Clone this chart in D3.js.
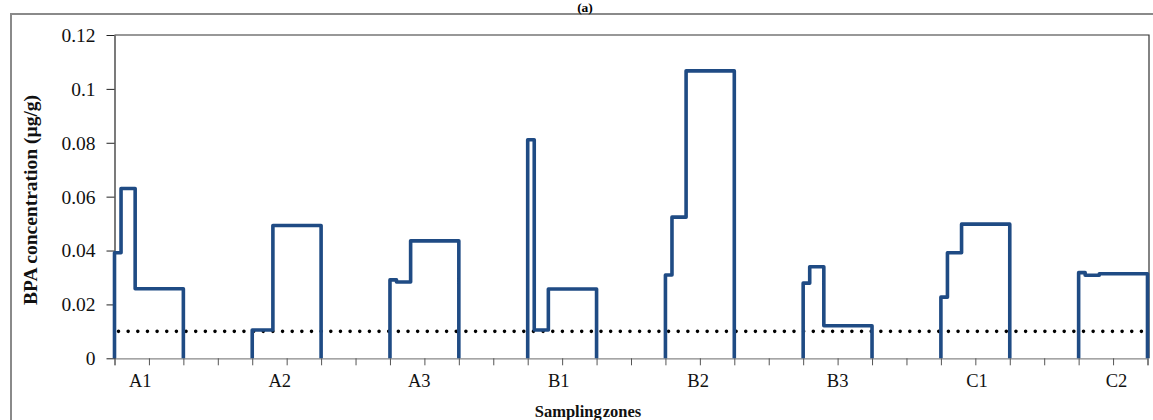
<!DOCTYPE html>
<html><head><meta charset="utf-8">
<script src="https://cdn.jsdelivr.net/npm/d3@7"></script>
<style>body{margin:0;background:#fff}svg{display:block}</style>
</head><body>
<svg id="chart" width="1153" height="420"></svg>
<script>
// ---- data ----
const zones = ["A1","A2","A3","B1","B2","B3","C1","C2"];
// three consecutive samples per zone (µg/g)
const zoneValues = [
  [0.0392, 0.0630, 0.0258],
  [0.0105, 0.0105, 0.0493],
  [0.0291, 0.0283, 0.0436],
  [0.0811, 0.0105, 0.0257],
  [0.0309, 0.0524, 0.1067],
  [0.0279, 0.0340, 0.0121],
  [0.0227, 0.0392, 0.0498],
  [0.0318, 0.0308, 0.0314]
];
const sampleBreaks = [0, 0.19, 0.6, 2];   // x-offset of sample boundaries within a zone
const zoneSpacing = 4;
const xUnits = 30;
const limitValue = 0.01;
const yTicks = [0, 0.02, 0.04, 0.06, 0.08, 0.1, 0.12];

const svg = d3.select("#chart");
const FONT = "'Liberation Serif', 'Times New Roman', serif";
const blue = "#1f4b84";

const x = d3.scaleLinear().domain([0, xUnits]).range([114.5, 1147.5]);
const y = d3.scaleLinear().domain([0, 0.12]).range([358.3, 35]);

// figure frame
svg.append("path").attr("d", "M11,420 V14 H1153").attr("fill","none")
  .attr("stroke", "#8a8a8a").attr("stroke-width", 2);

// title
svg.append("text").attr("x", 585).attr("y", 11.5).attr("text-anchor","middle")
  .attr("font-family", FONT).attr("font-weight","bold").attr("font-size", 13.5).text("(a)");

// plot border (top & right)
svg.append("path").attr("d", `M${x(0)},${y(0.12)} H${x(xUnits)+1.5} V${y(0)}`)
  .attr("fill","none").attr("stroke","#333").attr("stroke-width",1.2);

// x axis
const xAxis = d3.axisBottom(x).tickValues(d3.range(0, xUnits+1)).tickSize(7).tickFormat("");
const gx = svg.append("g").attr("transform", `translate(0,${y(0)})`).call(xAxis);
gx.select(".domain").attr("stroke","#888").attr("stroke-width",1.3);
gx.selectAll(".tick line").attr("stroke","#555").attr("stroke-width",1);

// y axis
const yAxis = d3.axisLeft(y).tickValues(yTicks).tickSize(8).tickSizeOuter(0)
  .tickFormat(d => d3.format("")(+d.toFixed(2)));
const gy = svg.append("g").attr("transform", `translate(${x(0)},0)`).call(yAxis);
gy.select(".domain").attr("stroke","#222").attr("stroke-width",1.2);
gy.selectAll(".tick line").attr("stroke","#222").attr("stroke-width",1);
gy.selectAll(".tick text").attr("font-family", FONT).attr("font-size", 19.5)
  .attr("fill","#111").attr("x", -19).attr("dy","0.33em");

// zone labels
svg.append("g").selectAll("text").data(zones).join("text")
  .attr("x", (d,i) => x(0.75 + i*4.05)).attr("y", 387)
  .attr("text-anchor","middle").attr("font-family", FONT).attr("font-size", 18.5)
  .attr("fill","#111").text(d => d);

// axis titles
svg.append("text").attr("x", 588).attr("y", 417).attr("text-anchor","middle")
  .attr("font-family", FONT).attr("font-weight","bold").attr("font-size", 16.5)
  .attr("word-spacing", -3).attr("fill","#111").text("Sampling zones");
svg.append("text").attr("transform", "translate(37,200) rotate(-90)")
  .attr("text-anchor","middle").attr("font-family", FONT).attr("font-weight","bold")
  .attr("font-size", 19.5).attr("fill","#111").text("BPA concentration (µg/g)");

// limit line
svg.append("line").attr("x1", x(0)+4).attr("x2", x(xUnits))
  .attr("y1", y(limitValue)).attr("y2", y(limitValue))
  .attr("stroke","#000").attr("stroke-width",3.6).attr("stroke-linecap","round")
  .attr("stroke-dasharray","0 9.65");

// step lines
const line = d3.line().x(d => x(d[0])).y(d => y(d[1])).curve(d3.curveStepAfter);
zoneValues.forEach((vals, i) => {
  const s = i * zoneSpacing;
  const pts = [[s + sampleBreaks[0], 0]];
  vals.forEach((v, j) => pts.push([s + sampleBreaks[j], v]));
  pts.push([s + sampleBreaks[3], 0]);
  svg.append("path").attr("d", line(pts)).attr("fill","none")
    .attr("stroke", blue).attr("stroke-width", 3.6).attr("stroke-linejoin","round");
});
</script>
</body></html>
